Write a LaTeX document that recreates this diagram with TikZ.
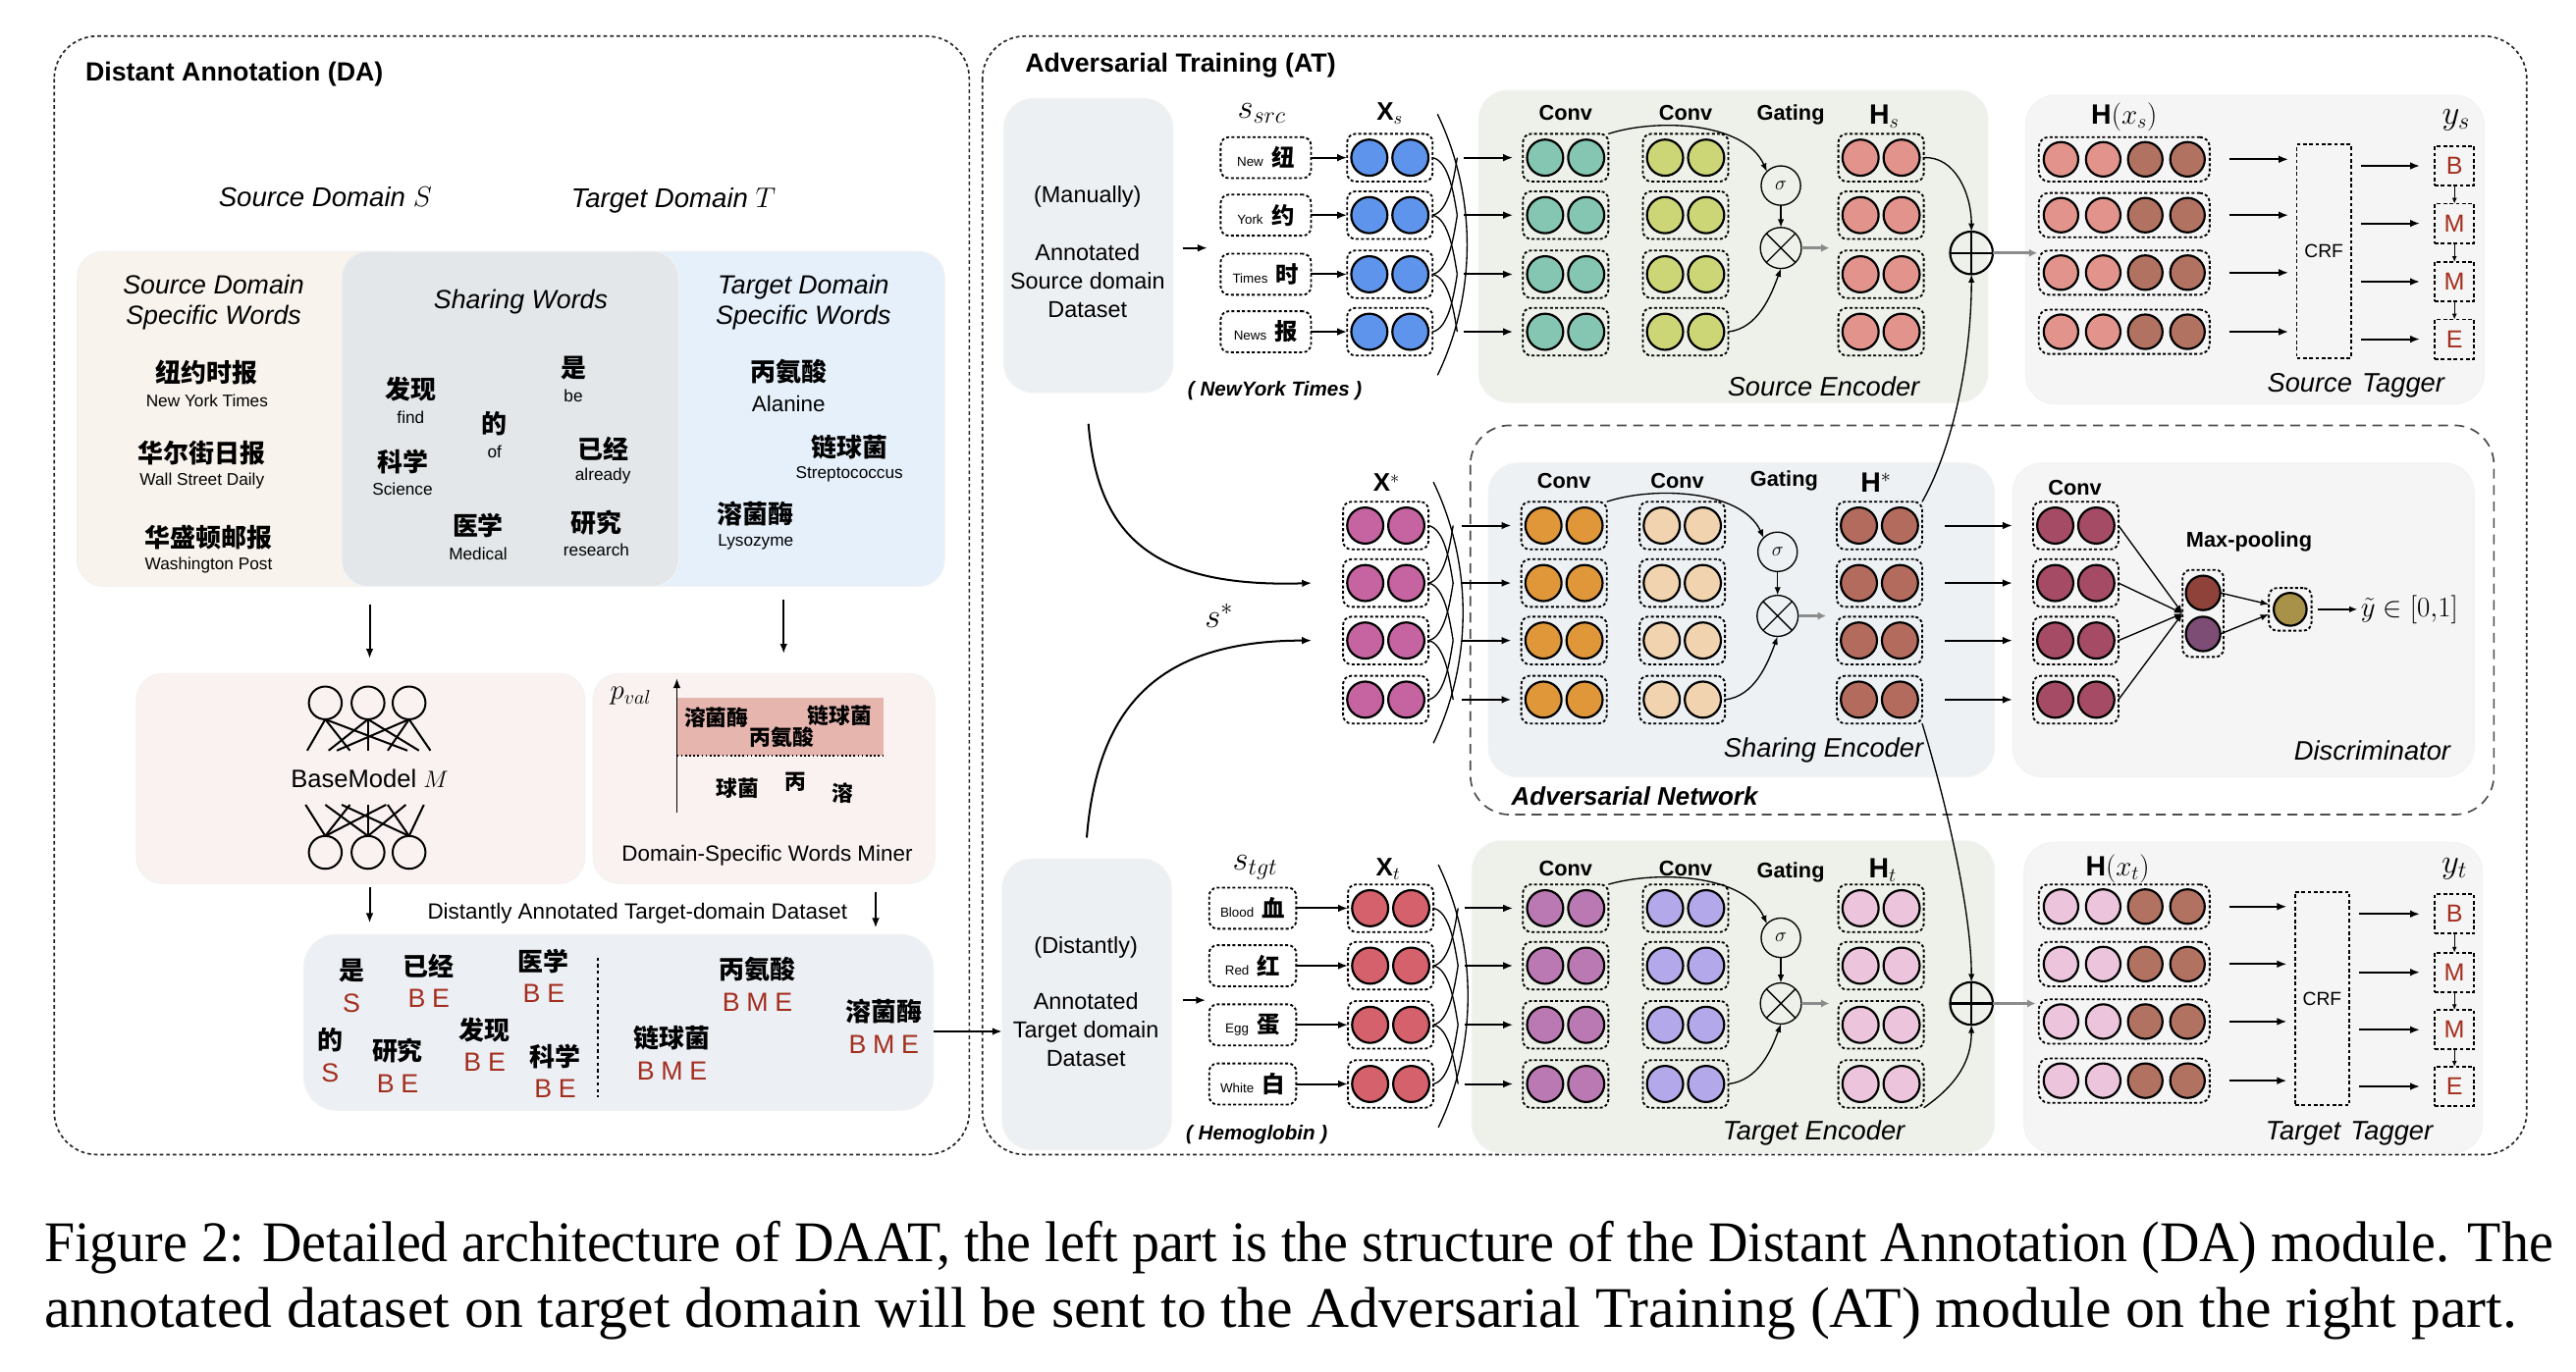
\documentclass[tikz,border=0pt]{standalone}
\usepackage{fontspec}
\usepackage{graphicx}
\setmainfont{Liberation Sans}
\newfontfamily\cjk{Noto Sans CJK SC}
\newfontfamily\capfont{Liberation Serif}
\usetikzlibrary{calc,arrows.meta}
\newcommand\fs[1]{\fontsize{#1}{#1}\selectfont}
\newcommand\fsl[2]{\fontsize{#1}{#2}\selectfont}
\definecolor{cSrcB}{HTML}{F8F3EC}
\definecolor{cShB}{HTML}{E3E7EA}
\definecolor{cTgtB}{HTML}{E6F0FB}
\definecolor{cPinkB}{HTML}{F9F2F1}
\definecolor{cBand}{HTML}{E5B5AE}
\definecolor{cDaB}{HTML}{ECEFF4}
\definecolor{cDsB}{HTML}{EDF0F3}
\definecolor{cEncG}{HTML}{EEF1EA}
\definecolor{cEncS}{HTML}{EEF1F3}
\definecolor{cTagB}{HTML}{F5F5F5}
\definecolor{cTag}{HTML}{A32E1E}
\definecolor{cBlue}{HTML}{5F94EC}
\definecolor{cTeal}{HTML}{84C6B2}
\definecolor{cLime}{HTML}{CDD676}
\definecolor{cSalmon}{HTML}{E2948C}
\definecolor{cBrownT}{HTML}{B27261}
\definecolor{cMag}{HTML}{C564A0}
\definecolor{cOrange}{HTML}{DF973A}
\definecolor{cPeach}{HTML}{F1D4AF}
\definecolor{cHstar}{HTML}{B36B5E}
\definecolor{cDisc}{HTML}{A64B66}
\definecolor{cMpA}{HTML}{8F4239}
\definecolor{cMpB}{HTML}{7E4D76}
\definecolor{cOut}{HTML}{A8924A}
\definecolor{cRed}{HTML}{D5616C}
\definecolor{cPurp}{HTML}{BB79B3}
\definecolor{cLav}{HTML}{B3A9EA}
\definecolor{cPinkL}{HTML}{ECC5DC}

\newcommand\pairnode[4]{%
  \node[pairbox] (#1) at (#2,#3) {};
  \node[ball, fill=#4] (#1a) at ($(#1)+(-12.5,0)$) {};
  \node[ball, fill=#4] (#1b) at ($(#1)+(12.5,0)$) {};}
\newcommand\quadnode[5]{%
  \node[quadbox] (#1) at (#2,#3) {};
  \node[qball, fill=#4] (#1-1) at ($(#1)+(-38.5,0)$) {};
  \node[qball, fill=#4] (#1-2) at ($(#1)+(-12.8,0)$) {};
  \node[qball, fill=#5] (#1-3) at ($(#1)+(12.8,0)$) {};
  \node[qball, fill=#5] (#1-4) at ($(#1)+(38.5,0)$) {};}
\newcommand\zhen[5]{%
  \node[zh] (#1) at (#2,#3) {#4};
  \node[gloss] (#1g) at (#2,#3+17) {#5};}
\newcommand\bw[5]{%
  \node[zhb] (#1) at (#2,#3) {#4};
  \node[tagtxt] (#1t) at (#2,#3+20) {#5};}

\begin{document}
\begin{tikzpicture}[x=1pt,y=-1pt,
  every node/.style={inner sep=0pt, outer sep=0pt},
  >={Latex[length=6pt,width=4.6pt]},
  outerdash/.style={draw=black!85, line width=1pt, dash pattern=on 2.2pt off 1.8pt, rounded corners=26pt},
  advdash/.style={draw=black!70, line width=1pt, dash pattern=on 6pt off 4pt, rounded corners=24pt},
  bgbox/.style={draw=black!5, line width=0.6pt, rounded corners=16pt},
  ttl/.style={font=\fs{16}\bfseries},
  dom/.style={font=\fs{16.5}\itshape},
  head/.style={font=\fsl{16}{18.5}\itshape, align=center},
  zh/.style={font=\cjk\bfseries\fs{15.5}},
  zhb/.style={font=\cjk\bfseries\fs{15.5}},
  gloss/.style={font=\fs{10.3}},
  tagtxt/.style={font=\fs{16}, text=cTag},
  dstext/.style={font=\fsl{14}{17.5}, align=center},
  lab/.style={font=\fs{13}\bfseries},
  big/.style={font=\fs{17}},
  xlab/.style={font=\fs{15.5}},
  mathlab/.style={font=\fs{21}},
  enclab/.style={font=\fs{16.3}\itshape},
  paren/.style={font=\fs{12.3}\bfseries\itshape},
  arr/.style={->, line width=1.2pt},
  thinarr/.style={->, line width=0.8pt, >={Latex[length=5pt,width=3.8pt]}},
  tinyarr/.style={->, line width=0.8pt, >={Latex[length=3.5pt,width=3pt]}},
  grayarr/.style={->, line width=2pt, draw=black!45, >={Latex[length=5pt,width=5pt]}},
  xline/.style={line width=0.8pt},
  net/.style={line width=1.2pt},
  nn/.style={circle, draw, line width=1.2pt, minimum size=20pt},
  pairbox/.style={draw, line width=1.1pt, dash pattern=on 1.8pt off 1.4pt, rounded corners=5pt, minimum width=52pt, minimum height=29pt},
  quadbox/.style={draw, line width=1.1pt, dash pattern=on 1.8pt off 1.4pt, rounded corners=6pt, minimum width=104pt, minimum height=27pt},
  ball/.style={circle, draw, line width=1.3pt, minimum size=22pt},
  qball/.style={circle, draw, line width=1.3pt, minimum size=21pt},
  wordbox/.style={draw, line width=1.1pt, dash pattern=on 1.8pt off 1.4pt, rounded corners=5pt, minimum width=55pt, minimum height=25pt},
  tagbox/.style={draw, line width=1.1pt, dash pattern=on 2.2pt off 1.6pt, minimum width=24pt, minimum height=24pt, font=\fs{15}, text=cTag},
  crf/.style={draw, line width=1.1pt, dash pattern=on 2.2pt off 1.6pt, minimum width=33pt, minimum height=130pt, font=\fs{11.5}},
  sig/.style={circle, draw, line width=0.8pt, minimum size=24pt, font=\fs{12}},
  otimes/.style={circle, draw, line width=0.8pt, minimum size=25pt},
  oplus/.style={circle, draw, line width=1.3pt, minimum size=26pt}
]
\useasboundingbox (0,0) rectangle (1568,835);
\fill[white] (0,0) rectangle (1568,835);

%%%%%%%%%%%%%%%% DA panel
\draw[outerdash] (33,22) rectangle (590,703);
\node[ttl, anchor=west] (datitle) at (52,45) {Distant Annotation (DA)};
\node[dom] (sdomain) at (198,120) {Source Domain $S$};
\node[dom] (tdomain) at (410,122) {Target Domain $T$};

\node[bgbox, fill=cSrcB, minimum width=203, minimum height=204] (srcbox) at (148.5,255) {};
\node[bgbox, fill=cTgtB, minimum width=203, minimum height=204] (tgtbox) at (473.5,255) {};
\node[bgbox, fill=cShB, minimum width=205, minimum height=204] (shbox) at (310.5,255) {};
\node[head] (srchead) at (130,184) {Source Domain\\Specific Words};
\node[head] (shhead) at (317,184) {Sharing Words};
\node[head] (tgthead) at (489,184) {Target Domain\\Specific Words};

\zhen{wa}{126}{227}{纽约时报}{New York Times}
\zhen{wb}{123}{276}{华尔街日报}{Wall Street Daily}
\zhen{wc}{127}{327}{华盛顿邮报}{Washington Post}
\zhen{wd}{250}{237}{发现}{find}
\zhen{we}{245}{281}{科学}{Science}
\zhen{wf}{301}{258}{的}{of}
\zhen{wg}{349}{224}{是}{be}
\zhen{wh}{367}{273}{已经}{already}
\zhen{wi}{291}{320}{医学}{Medical}
\zhen{wj}{363}{318}{研究}{research}
\node[zh] (wk) at (480,226) {丙氨酸};
\node[font=\fs{13.4}] (wkg) at (480,246) {Alanine};
\zhen{wl}{517}{272}{链球菌}{Streptococcus}
\zhen{wm}{460}{313}{溶菌酶}{Lysozyme}

\coordinate (d1a) at (225,368); \coordinate (d1b) at (225,401);
\coordinate (d2a) at (477,365); \coordinate (d2b) at (477,398);
\draw[arr] (d1a) -- (d1b);
\draw[arr] (d2a) -- (d2b);

% BaseModel
\node[bgbox, fill=cPinkB, minimum width=273, minimum height=128] (bmbox) at (219.5,474) {};
\foreach \i/\x in {1/198,2/224,3/249}{
  \node[nn] (nt\i) at (\x,428) {};
  \node[nn] (nb\i) at (\x,519) {};
}
\foreach \i/\lst in {1/{187,213,248},2/{200,224,255},3/{205,236,262}}
  \foreach \x in \lst \draw[net] (nt\i.south) -- (\x,457);
\foreach \i/\lst in {1/{186,213,235},2/{198,224,247},3/{208,236,258}}
  \foreach \x in \lst \draw[net] (\x,490) -- (nb\i.north);
\node[font=\fs{15.3}] (bmlabel) at (225,474) {BaseModel $M$};

% Miner
\node[bgbox, fill=cPinkB, minimum width=208, minimum height=128] (minerbox) at (465,474) {};
\fill[cBand] (412,425) rectangle (538,460);
\draw[line width=1pt, dash pattern=on 1pt off 1.5pt] (412,460) -- (538,460);
\coordinate (axb) at (412,495); \coordinate (axt) at (412,413);
\draw[arr, line width=1pt] (axb) -- (axt);
\node[font=\fs{17}] (pval) at (384,424) {$p_{val}$};
\node[font=\cjk\bfseries\fs{13}] (ma) at (436,437) {溶菌酶};
\node[font=\cjk\bfseries\fs{13}] (mb) at (511,436) {链球菌};
\node[font=\cjk\bfseries\fs{13}] (mc) at (476,449) {丙氨酸};
\node[font=\cjk\bfseries\fs{13}] (md) at (449,480) {球菌};
\node[font=\cjk\bfseries\fs{13}] (me) at (484,476) {丙};
\node[font=\cjk\bfseries\fs{13}] (mf) at (513,483) {溶};
\node[font=\fs{13.4}] (minerlab) at (467,521) {Domain-Specific Words Miner};

\coordinate (d3a) at (225,540); \coordinate (d3b) at (225,562);
\coordinate (d4a) at (533,543); \coordinate (d4b) at (533,565);
\draw[arr] (d3a) -- (d3b);
\draw[arr] (d4a) -- (d4b);
\node[font=\fs{13.4}] (dalab) at (388,556) {Distantly Annotated Target-domain Dataset};

% annotated dataset
\node[bgbox, fill=cDaB, minimum width=383, minimum height=107, rounded corners=20pt] (dadata) at (376.5,622.5) {};
\draw[line width=0.8pt, dash pattern=on 2pt off 2pt] (364,583) -- (364,668);
\bw{ba}{214}{591}{是}{S}
\bw{bb}{261}{588}{已经}{B\hspace{4pt}E}
\bw{bc}{331}{585}{医学}{B\hspace{4pt}E}
\bw{bd}{201}{633}{的}{S}
\bw{be}{242}{640}{研究}{B\hspace{4pt}E}
\bw{bf}{295}{627}{发现}{B\hspace{4pt}E}
\bw{bg}{338}{643}{科学}{B\hspace{4pt}E}
\bw{bh}{461}{590}{丙氨酸}{B\hspace{4pt}M\hspace{4pt}E}
\bw{bi}{409}{632}{链球菌}{B\hspace{4pt}M\hspace{4pt}E}
\bw{bj}{538}{616}{溶菌酶}{B\hspace{4pt}M\hspace{4pt}E}

%%%%%%%%%%%%%%%% AT panel
\draw[outerdash] (598,22) rectangle (1538,703);
\node[ttl, anchor=west] (attitle) at (624,40) {Adversarial Training (AT)};

\node[bgbox, fill=cDsB, minimum width=103, minimum height=179, rounded corners=18pt] (srcds) at (662.5,149.5) {};
\node[dstext] (srcdsa) at (662,120) {(Manually)};
\node[dstext] (srcdsb) at (662,171) {Annotated\\Source domain\\Dataset};
\node[bgbox, fill=cDsB, minimum width=103, minimum height=177, rounded corners=18pt] (tgtds) at (661.5,611.5) {};
\node[dstext] (tgtdsa) at (661,577) {(Distantly)};
\node[dstext] (tgtdsb) at (661,627) {Annotated\\Target domain\\Dataset};

\draw[advdash] (895,259) rectangle (1518,496);

\node[bgbox, fill=cEncG, minimum width=310, minimum height=190, rounded corners=18pt] (senc) at (1055,150) {};
\node[bgbox, fill=cEncS, minimum width=308, minimum height=191, rounded corners=18pt] (shenc) at (1060,377.5) {};
\node[bgbox, fill=cEncG, minimum width=318, minimum height=190, rounded corners=18pt] (tenc) at (1055,607) {};
\node[bgbox, fill=cTagB, minimum width=279, minimum height=188, rounded corners=18pt] (stag) at (1372.5,152) {};
\node[bgbox, fill=cTagB, minimum width=281, minimum height=191, rounded corners=18pt] (disc) at (1365.5,377.5) {};
\node[bgbox, fill=cTagB, minimum width=279, minimum height=189, rounded corners=18pt] (ttag) at (1371.5,607.5) {};

%% ---------- source branch
\node[mathlab] (ssrc) at (768,69) {$s_{src}$};
\node[xlab] (xslab) at (846,69) {{\bfseries X}$_s$};
\node[lab] (sconv1) at (953,69) {Conv};
\node[lab] (sconv2) at (1026,69) {Conv};
\node[lab] (sgat) at (1090,70) {Gating};
\node[big] (shlab) at (1147,71) {{\bfseries H}$_s$};
\draw[arr] ($(srcds.east)+(6,1.5)$) -- ++(15,0);
\foreach \i/\y/\en/\zh in {1/96/New/纽,2/131/York/约,3/167/Times/时,4/202/News/报}{
  \node[wordbox] (sw\i) at (770.5,\y) {{\fs{8}\en}\hspace{5pt}{\cjk\bfseries\fs{14}\zh}};
  \pairnode{sx\i}{846}{\y}{cBlue}
  \pairnode{sa\i}{953}{\y}{cTeal}
  \pairnode{sb\i}{1026}{\y}{cLime}
  \pairnode{sh\i}{1145}{\y}{cSalmon}
  \draw[arr] (sw\i) -- (sx\i);
  \draw[arr, shorten >=6pt] ($(sx\i.east)+(19,0)$) -- (sa\i.west);
}
\draw[xline] ($(sx1.north east)+(3,-12)$) .. controls +(24,50) and +(24,-50) .. ($(sx4.south east)+(3,12)$);
\foreach \i/\j in {1/2,2/3,3/4}{
  \draw[xline] (sx\i.east) .. controls +(10,2) and +(-2,-12) .. ($(sx\j.east)+(15,0)$);
  \draw[xline] (sx\j.east) .. controls +(10,-2) and +(-2,12) .. ($(sx\i.east)+(15,0)$);
}
\node[sig] (ssig) at (1084,113) {$\sigma$};
\node[otimes] (sot) at (1084,151) {};
\draw[xline] (sot.45) -- (sot.225) (sot.135) -- (sot.315);
\draw[thinarr] (sa1.north east) .. controls (1008,72) and (1062,74) .. (ssig.north west);
\draw[thinarr] (ssig) -- (sot);
\draw[thinarr] (sb4.east) .. controls (1070,200) and (1078,180) .. (sot.south);
\draw[grayarr] (sot.east) -- ++(17,0);
\node[oplus] (sop) at (1200,154) {};
\draw[line width=1.3pt] (sop.north) -- (sop.south) (sop.east) -- (sop.west);
\draw[thinarr] (sh1.east) .. controls (1190,95) and (1200,118) .. (sop.north);
\draw[grayarr] (sop.east) -- ($(stag.west |- sop)+(7,0)$);
\node[enclab] (senclab) at (1110,235) {Source Encoder};
\node[paren] (snyt) at (776,238) {( NewYork Times )};

% source tagger
\node[big] (hxs) at (1293,71) {{\bfseries H}$(x_s)$};
\node[mathlab] (ys) at (1495,73) {$y_s$};
\node[crf] (scrf) at (1414.5,153) {CRF};
\foreach \i/\y/\t/\ty in {1/97/B/101,2/131/M/136,3/166/M/171.5,4/202/E/206.5}{
  \quadnode{sq\i}{1293}{\y}{cSalmon}{cBrownT}
  \node[tagbox] (st\i) at (1494,\ty) {\t};
  \draw[arr, shorten >=5pt] ($(sq\i.east)+(12,0)$) -- (scrf.west |- sq\i);
  \draw[arr] ($(scrf.east |- st\i)+(6,0)$) -- ($(st\i.west)+(-9,0)$);
}
\foreach \i/\j in {1/2,2/3,3/4} \draw[tinyarr] (st\i) -- (st\j);
\node[enclab] (stlab) at (1434,235) {Source\hspace{6pt}Tagger};

%% ---------- shared branch
\node[xlab] (xxlab) at (844,294) {{\bfseries X}$^*$};
\node[lab] (hconv1) at (952,293) {Conv};
\node[lab] (hconv2) at (1021,293) {Conv};
\node[lab] (hgat) at (1086,293) {Gating};
\node[big] (hhlab) at (1142,294) {{\bfseries H}$^*$};
\node[lab] (dconv) at (1263,297) {Conv};
\node[lab] (mplab) at (1369,330) {Max-pooling};
\node[pairbox, minimum width=25, minimum height=53] (mp) at (1341,373.5) {};
\node[ball, fill=cMpA, minimum size=21pt] (mpa) at (1341,361) {};
\node[ball, fill=cMpB, minimum size=21pt] (mpb) at (1341,386) {};
\node[pairbox, minimum width=26, minimum height=26] (outb) at (1394,371) {};
\node[ball, fill=cOut, minimum size=20pt] (outc) at (1394,371) {};
\draw[thinarr] (mpa.east) -- ([yshift=3pt]outb.west);
\draw[thinarr] (mpb.east) -- ([yshift=-3pt]outb.west);
\draw[thinarr] ($(outb.east)+(4,0)$) -- ++(24,0);
\node[font=\fs{16}, anchor=west] (ytil) at (1437,371) {$\tilde{y}\in[0{,}1]$};
\foreach \i/\y in {1/320,2/355,3/390,4/426}{
  \pairnode{xx\i}{843.5}{\y}{cMag}
  \pairnode{ha\i}{952}{\y}{cOrange}
  \pairnode{hb\i}{1024}{\y}{cPeach}
  \pairnode{hh\i}{1144}{\y}{cHstar}
  \pairnode{dc\i}{1263.5}{\y}{cDisc}
  \draw[arr, shorten >=6pt] ($(xx\i.east)+(20,0)$) -- (ha\i.west);
  \draw[arr] ($(hh\i.east)+(14,0)$) -- (disc.west |- hh\i);
  \draw[thinarr] (dc\i.east) -- (mp.west);
}
\draw[xline] ($(xx1.north east)+(3,-12)$) .. controls +(24,50) and +(24,-50) .. ($(xx4.south east)+(3,12)$);
\foreach \i/\j in {1/2,2/3,3/4}{
  \draw[xline] (xx\i.east) .. controls +(10,2) and +(-2,-12) .. ($(xx\j.east)+(15,0)$);
  \draw[xline] (xx\j.east) .. controls +(10,-2) and +(-2,12) .. ($(xx\i.east)+(15,0)$);
}
\node[sig] (hsig) at (1082,336) {$\sigma$};
\node[otimes] (hot) at (1082,375) {};
\draw[xline] (hot.45) -- (hot.225) (hot.135) -- (hot.315);
\draw[thinarr] (ha1.north east) .. controls (1006,296) and (1060,298) .. (hsig.north west);
\draw[thinarr] (hsig) -- (hot);
\draw[thinarr] (hb4.east) .. controls (1068,424) and (1076,404) .. (hot.south);
\draw[grayarr] (hot.east) -- ++(17,0);
\node[enclab] (shlab2) at (1110,457) {Sharing Encoder};
\node[enclab] (disclab) at (1444,457) {Discriminator};
\node[font=\fs{15.5}\bfseries\itshape] (advlab) at (995,485) {Adversarial Network};

%% ---------- target branch
\node[mathlab] (stgt) at (764,528) {$s_{tgt}$};
\node[xlab] (xtlab) at (845,529) {{\bfseries X}$_t$};
\node[lab] (tconv1) at (953,529) {Conv};
\node[lab] (tconv2) at (1026,529) {Conv};
\node[lab] (tgat) at (1090,531) {Gating};
\node[big] (htlab) at (1146,530) {{\bfseries H}$_t$};
\draw[arr] ($(tgtds.east)+(7,-2.5)$) -- ++(14,0);
\foreach \i/\y/\en/\zh in {1/553/Blood/血,2/588/Red/红,3/624/Egg/蛋,4/660/White/白}{
  \node[wordbox, minimum width=53pt] (tw\i) at (762.5,\y) {{\fs{8}\en}\hspace{5pt}{\cjk\bfseries\fs{14}\zh}};
  \pairnode{tx\i}{846.5}{\y}{cRed}
  \pairnode{ta\i}{953}{\y}{cPurp}
  \pairnode{tb\i}{1026}{\y}{cLav}
  \pairnode{th\i}{1145}{\y}{cPinkL}
  \draw[arr] (tw\i) -- (tx\i);
  \draw[arr, shorten >=6pt] ($(tx\i.east)+(19,0)$) -- (ta\i.west);
}
\draw[xline] ($(tx1.north east)+(3,-12)$) .. controls +(24,50) and +(24,-50) .. ($(tx4.south east)+(3,12)$);
\foreach \i/\j in {1/2,2/3,3/4}{
  \draw[xline] (tx\i.east) .. controls +(10,2) and +(-2,-12) .. ($(tx\j.east)+(15,0)$);
  \draw[xline] (tx\j.east) .. controls +(10,-2) and +(-2,12) .. ($(tx\i.east)+(15,0)$);
}
\node[sig] (tsig) at (1084,571) {$\sigma$};
\node[otimes] (tot) at (1084,611) {};
\draw[xline] (tot.45) -- (tot.225) (tot.135) -- (tot.315);
\draw[thinarr] (ta1.north east) .. controls (1008,530) and (1062,532) .. (tsig.north west);
\draw[thinarr] (tsig) -- (tot);
\draw[thinarr] (tb4.east) .. controls (1070,658) and (1078,640) .. (tot.south);
\draw[grayarr] (tot.east) -- ++(17,0);
\node[oplus] (top) at (1200,611) {};
\draw[line width=1.3pt] (top.north) -- (top.south) (top.east) -- (top.west);
\draw[thinarr] (th4.south east) .. controls (1192,660) and (1200,645) .. (top.south);
\draw[grayarr] (top.east) -- ($(ttag.west |- top)+(7,0)$);
\node[enclab] (tenclab) at (1104,690) {Target Encoder};
\node[paren] (themo) at (765,691) {( Hemoglobin )};

% target tagger
\node[big] (hxt) at (1289,529) {{\bfseries H}$(x_t)$};
\node[mathlab] (yt) at (1494,529) {$y_t$};
\node[crf] (tcrf) at (1413.5,608) {CRF};
\foreach \i/\y/\t/\ty in {1/552/B/556.5,2/587/M/592,3/622/M/627,4/658/E/661.5}{
  \quadnode{tq\i}{1293}{\y}{cPinkL}{cBrownT}
  \node[tagbox] (tt\i) at (1494,\ty) {\t};
  \draw[arr, shorten >=5pt] ($(tq\i.east)+(12,0)$) -- (tcrf.west |- tq\i);
  \draw[arr] ($(tcrf.east |- tt\i)+(6,0)$) -- ($(tt\i.west)+(-9,0)$);
}
\foreach \i/\j in {1/2,2/3,3/4} \draw[tinyarr] (tt\i) -- (tt\j);
\node[enclab] (ttlab) at (1430,690) {Target\hspace{6pt}Tagger};

%% ---------- cross connections
\draw[thinarr] (hh1.north east) .. controls (1190,270) and (1200,215) .. (sop.south);
\draw[thinarr] (hh4.south east) .. controls (1188,500) and (1200,560) .. (top.north);
\draw[arr] ([yshift=-19pt]srcds.south) .. controls (668,325) and (700,358) .. ([xshift=-19pt]xx2.west);
\draw[arr] ([yshift=13pt]tgtds.north) .. controls (668,430) and (705,390) .. ([xshift=-19pt]xx3.west);
\node[font=\fs{22}] (sstar) at (742,375) {$s^*$};
\draw[arr, line width=1.6pt] (dadata.east |- 0,628) -- (tgtds.west |- 0,628);

%% ---------- caption
\node[anchor=base west, font=\capfont\fs{35}] (cap1) at (27,768) {\resizebox{1527pt}{\height}{Figure 2: Detailed architecture of DAAT, the left part is the structure of the Distant Annotation (DA) module. The}};
\node[anchor=base west, font=\capfont\fs{35}] (cap2) at (27,808) {\resizebox{1505pt}{\height}{annotated dataset on target domain will be sent to the Adversarial Training (AT) module on the right part.}};
\end{tikzpicture}
\end{document}
